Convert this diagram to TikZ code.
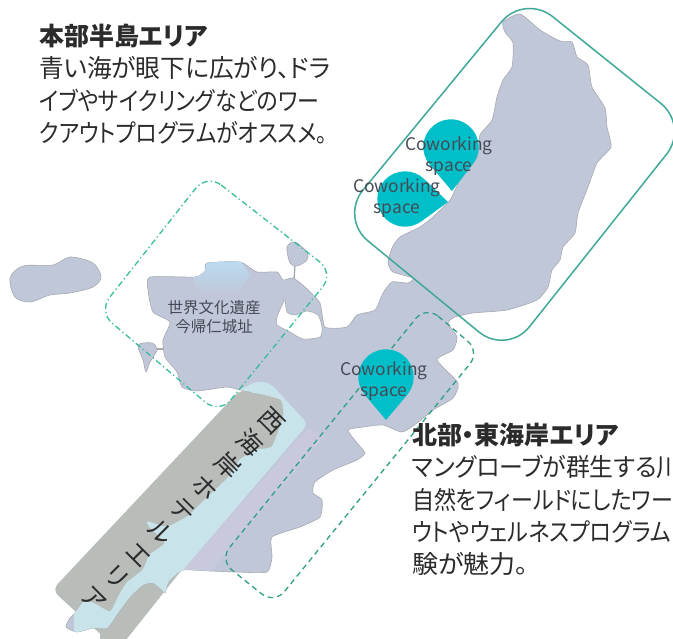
\documentclass[tikz,border=0pt]{standalone}
\usepackage{fontspec}
\newfontfamily\jp[RawFeature=+palt]{Noto Sans CJK JP}
\definecolor{landc}{HTML}{C0C7D9}
\definecolor{coast}{HTML}{A6A9B0}
\definecolor{bandc}{HTML}{B8BDBA}
\definecolor{seac}{HTML}{C9E3EA}
\definecolor{pinkc}{HTML}{C8C9DC}
\definecolor{skyc}{HTML}{BBDBF0}
\definecolor{pinc}{HTML}{00BFC9}
\definecolor{framec}{HTML}{3FA898}
\definecolor{dashc}{HTML}{38BC9C}
\definecolor{inkc}{HTML}{2B2B2B}
\definecolor{pinink}{HTML}{454A55}
\newcommand{\landoutline}{plot[smooth cycle,tension=0.35] coordinates {
 (503,22)(520,14)(540,30)(560,41)(572,42)(577,57)(588,65)(592,87)(605,108)(607,127)(611,147)(597,163)(588,187)(578,213)(575,233)(563,247)(560,260)(552,270)(548,287)(537,300)(507,310)(473,313)(455,317)(448,323)
 (457,337)(453,350)(437,360)(458,383)(453,398)(433,410)(417,423)(402,432)(383,425)(363,427)(348,430)(357,443)(365,453)(357,460)(333,470)(315,482)(313,493)(322,500)(320,517)(300,527)(272,537)(272,557)(267,572)(237,572)(210,571)(183,570)
 (172,578)(168,583)(165,593)(162,590)(153,583)(143,585)(130,597)(118,613)(107,628)(93,628)(77,632)(66,627)(70,618)(75,613)(83,602)(93,603)(110,612)(118,598)(127,583)(143,570)(150,555)(165,543)(150,527)(148,522)(167,527)(187,517)(193,512)(207,498)(228,478)(240,460)(257,450)(272,447)(282,422)(284,412)(280,398)(240,390)
 (227,387)(197,391)(182,387)(177,372)(165,357)(163,340)(170,322)(153,312)(148,290)(150,277)(195,277)(205,271)(207,263)(240,262)(257,272)(277,272)(283,280)(293,278)(305,287)(320,303)(325,327)(347,327)(357,315)(375,310)(383,293)(392,282)(408,283)(413,278)(393,272)(388,263)(392,248)(400,237)(420,227)(433,217)(450,200)(460,180)(477,157)(480,135)(492,120)(497,97)(503,80)(512,67)(513,43)(505,32)}}
\newcommand{\lineto}[2]{\scalebox{#1}[1]{#2}}
\tikzset{
 landshape/.style={fill=landc,draw=coast,line width=0.6pt},
 framesolid/.style={draw=framec,line width=1.5pt,rounded corners=36pt},
 framedot/.style={draw=dashc,line width=1.3pt,rounded corners=18pt,dash pattern=on 6pt off 3pt on 1.3pt off 3pt},
 framedash/.style={draw=dashc!85!black,line width=1.3pt,rounded corners=16pt,dash pattern=on 5.5pt off 4pt},
 pinshape/.style={fill=pinc},
 pinlabel/.style={font=\jp\fontsize{17.4}{21}\selectfont,text=pinink,align=center,inner sep=0pt},
 bodytext/.style={font=\jp\fontsize{25}{32.2}\selectfont,text=inkc,align=left,anchor=north west,inner sep=0pt},
 herit/.style={font=\jp\fontsize{15.5}{19}\selectfont,text=pinink,align=center,inner sep=0pt},
 bandtext/.style={font=\jp\fontsize{25}{31.5}\selectfont,text=inkc,align=center,inner sep=0pt,rotate=-45}
}
\begin{document}
\begin{tikzpicture}[x=1pt,y=-1pt]
\useasboundingbox (0,0) rectangle (673,639);
\clip (0,0) rectangle (673,639);
% band behind the land
\fill[bandc,rounded corners=8pt] (241,389) -- (285,400) -- (285,440) -- (118,650) -- (52,590) -- cycle;
\fill[bandc] (162,590) -- (118,640) -- (100,640) -- (100,620) -- cycle;
% islets
\draw[landshape] plot[smooth cycle,tension=0.5] coordinates {(10,278)(23,266)(53,265)(70,257)(93,263)(101,277)(93,287)(70,293)(50,295)(30,302)(15,297)};
\draw[coast,line width=1.4pt] (295,264) -- (294,280);
\draw[coast,line width=1.4pt] (154,349) -- (165,349);
\draw[landshape] plot[smooth cycle,tension=0.5] coordinates {(287,247)(295,242)(307,252)(307,260)(297,266)(290,263)};
\draw[landshape] plot[smooth cycle,tension=0.5] coordinates {(138,345)(152,343)(157,350)(150,362)(146,372)(143,360)};
% land
\draw[landshape] \landoutline;
\begin{scope}
 \clip \landoutline;
 \fill[pinkc] (308,428) -- (325,436) -- (195,590) -- (183,570) -- cycle;
 \fill[seac,rounded corners=6pt] (230,395) -- (257,381) -- (270,383) -- (308,424) -- (183,570) -- (150,640) -- (74,640) -- (74,600) -- cycle;
 \shade[top color=skyc,bottom color=landc] (207,260) -- (240,260) -- (250,275) -- (237,294) -- (198,294) -- (193,277) -- (205,271) -- cycle;
\end{scope}
% soft edge between band and shallow sea
\draw[seac,line width=1.1pt] plot[smooth,tension=0.35] coordinates {(83,602)(93,603)(110,612)(118,598)(127,583)(143,570)(150,555)(165,543)(150,527)(148,522)(167,527)(187,517)(193,512)(207,498)(228,478)(240,460)(257,450)(272,447)(282,422)(284,412)(280,398)(252,392)};
% lagoon
\draw[fill=white,draw=coast,line width=0.6pt] plot[smooth cycle,tension=0.4] coordinates {(285,300)(287,312)(295,315)(307,311)(318,315)(322,327)(320,337)(303,339)(290,332)(277,325)(277,317)(283,303)};
% area frames
\draw[framesolid] (524.4,-6) -- (689,126) -- (507,355) -- (340,218) -- cycle;
\draw[framedot] (207,174) -- (334,273) -- (219.3,414) -- (98.4,311.5) -- cycle;
\draw[framedash] (426,306) -- (480,351.5) -- (274.3,604) -- (219.4,560) -- cycle;
% pins
\path[pinshape] (451,147) ++(141:27.7) arc[start angle=141,end angle=399,radius=27.7] -- (452,191) -- cycle;
\path[pinshape] (405,199) ++(-46:27.7) arc[start angle=-46,end angle=-306,radius=27.7] -- (448,202) -- cycle;
\path[pinshape] (386,377) ++(140:27.7) arc[start angle=140,end angle=400,radius=27.7] -- (386,420) -- cycle;
% labels
\node[pinlabel] (pinA) at (449,156) {Coworking\\space};
\node[pinlabel] (pinB) at (397,198) {Coworking\\space};
\node[pinlabel] (pinC) at (384,381) {Coworking\\space};
\node[herit] (heritage) at (214,317.5) {世界文化遺産\\今帰仁城址};
\node[bandtext] (westband) at (183,510) {西\\海\\岸\\ホ\\テ\\ル\\エ\\リ\\ア};
\node[bodytext] (hondo) at (39,24) {\lineto{1.0}{\textbf{本部半島エリア}}\\\lineto{0.987}{青い海が眼下に広がり、ドラ}\\\lineto{0.878}{イブやサイクリングなどのワー}\\\lineto{0.878}{クアウトプログラムがオススメ。}};
\node[bodytext] (east) at (412,423) {\lineto{1.0}{\textbf{北部・東海岸エリア}}\\\lineto{0.955}{マングローブが群生する川}\\\lineto{0.88}{自然をフィールドにしたワー}\\\lineto{0.885}{ウトやウェルネスプログラム}\\\lineto{1.04}{験が魅力。}};
\end{tikzpicture}
\end{document}
